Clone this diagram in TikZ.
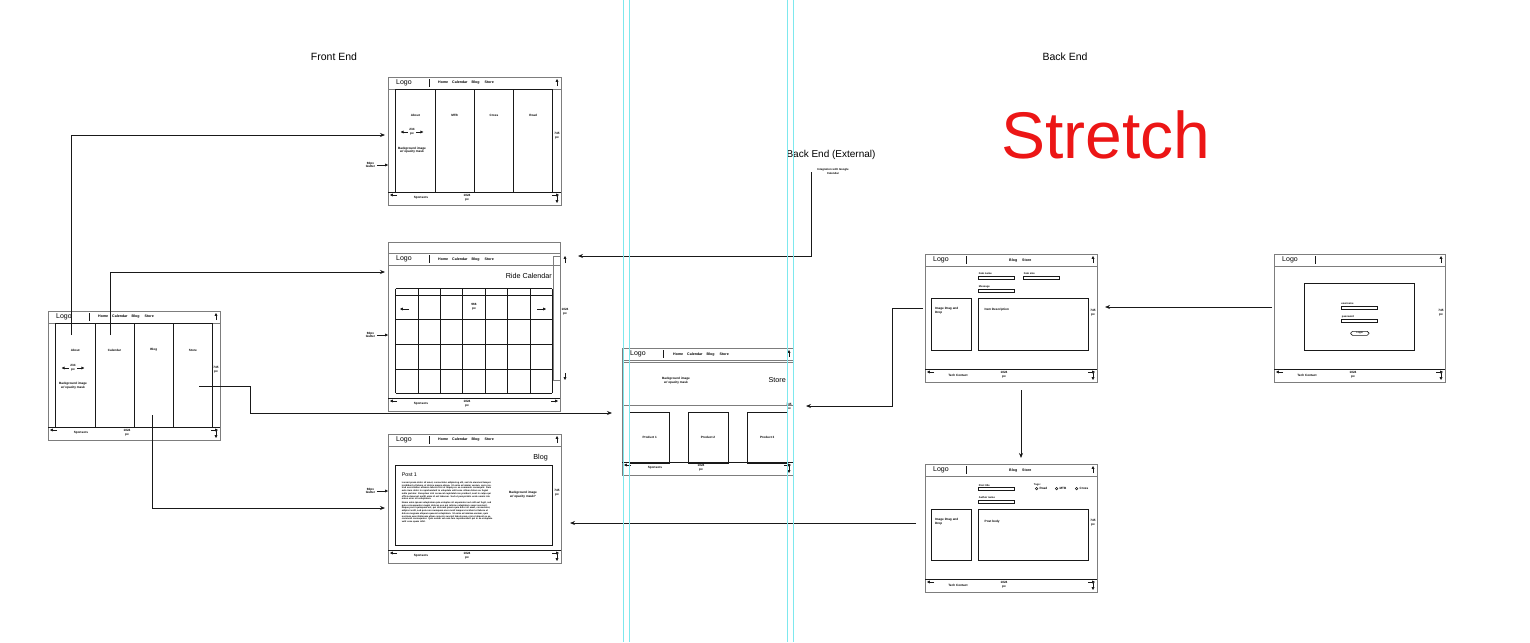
\documentclass[tikz,border=0pt]{standalone}
\usepackage{fontspec}
\setmainfont{Liberation Sans}
\usepackage{tikz}
\usetikzlibrary{arrows.meta, positioning, calc}
\definecolor{mydark}{RGB}{25,25,25}
\definecolor{framegray}{RGB}{125,125,125}
\definecolor{guidecyan}{RGB}{125,232,238}
\definecolor{inkred}{RGB}{236,22,22}
\tikzset{
  pageframe/.style={rectangle, draw=framegray, line width=1pt,
    inner sep=0pt, outer sep=0pt},
  colbox/.style={rectangle, draw=mydark, line width=0.8pt, minimum width=39.2pt,
    anchor=north west, inner sep=0pt, outer sep=0pt},
  panel/.style={rectangle, draw=mydark, line width=0.8pt, anchor=north west,
    inner sep=0pt, outer sep=0pt},
  fieldbox/.style={rectangle, draw=mydark, line width=0.6pt, minimum width=35.6pt,
    minimum height=3.3pt, anchor=north west, inner sep=0pt, outer sep=0pt},
  grayline/.style={draw=framegray, line width=0.8pt},
  darkline/.style={draw=mydark, line width=0.8pt},
  arrow/.style={-{Stealth[length=5pt,width=4pt]}, line width=0.8pt, color=mydark},
  tinyarrow/.style={-{Triangle[length=2.8pt,width=2.8pt]}, line width=0.6pt, color=mydark},
  guide/.style={draw=guidecyan, line width=0.9pt},
  title/.style={font=\fontsize{10.5}{12}\selectfont, inner sep=0pt},
  logo/.style={font=\fontsize{7}{8}\selectfont, inner sep=0pt, anchor=west},
  heading/.style={font=\fontsize{7.2}{8}\selectfont, inner sep=0pt, anchor=east},
  nav/.style={font=\bfseries\fontsize{3.6}{4}\selectfont, inner sep=0pt, anchor=west},
  tiny/.style={font=\bfseries\fontsize{3.1}{3.6}\selectfont, inner sep=0pt, align=center},
  tinyleft/.style={tiny, align=left},
  fieldlabel/.style={font=\bfseries\fontsize{2.6}{3}\selectfont, inner sep=0pt, anchor=south west},
  stretchtext/.style={font=\fontsize{66}{70}\selectfont, text=inkred, anchor=base, inner sep=0pt}
}

% one wireframe page: name, left, top, width, height, footer text
\newcommand{\wireframe}[6]{%
  \node[pageframe, minimum width=#4pt, minimum height=#5pt, anchor=north west] (#1) at (#2,#3) {};
  \draw[grayline] ([yshift=-12pt]#1.north west) -- ([yshift=-12pt]#1.north east);
  \node[logo] (#1-logo) at ([xshift=8pt,yshift=-6pt]#1.north west) {Logo};
  \draw[darkline] ([xshift=41pt,yshift=-2pt]#1.north west) -- ([xshift=41pt,yshift=-10pt]#1.north west);
  \draw[darkline] ([yshift=13pt]#1.south west) -- ([yshift=13pt]#1.south east);
  \node[tiny] (#1-foot) at ([xshift=33pt,yshift=7pt]#1.south west) {#6};
  \node[tiny] (#1-width) at ([xshift=79pt,yshift=7.5pt]#1.south west) {1024\\px};
  \draw[tinyarrow] ([xshift=9pt,yshift=10pt]#1.south west) -- ([xshift=2pt,yshift=10pt]#1.south west);
  \draw[tinyarrow] ([xshift=-9pt,yshift=10pt]#1.south east) -- ([xshift=-2pt,yshift=10pt]#1.south east);
}
% up/down marks and height on the right side
\newcommand{\sidemarks}[1]{%
  \draw[tinyarrow] ([xshift=-4pt,yshift=-9pt]#1.north east) -- ([xshift=-4pt,yshift=-2pt]#1.north east);
  \draw[tinyarrow] ([xshift=-4pt,yshift=9pt]#1.south east) -- ([xshift=-4pt,yshift=2pt]#1.south east);
  \node[tiny] (#1-height) at ([xshift=-4pt,yshift=-59pt]#1.north east) {745\\px};
}
% gutter note left of a page
\newcommand{\gutternote}[2]{%
  \node[tiny] (#1-gutter) at (370.5,#2) {60px\\Gutter};
  \draw[tinyarrow] ([xshift=1.5pt]#1-gutter.east) -- (#1.west |- #1-gutter.east);
}

\begin{document}
\begin{tikzpicture}[x=1pt, y=-1pt]
  \useasboundingbox (0,0) rectangle (1530,642);

  % Titles
  \node[title] (frontend) at (334,57) {Front End};
  \node[title] (backend) at (1065,57) {Back End};
  \node[title, font=\fontsize{10}{12}\selectfont] (external) at (831,155) {Back End (External)};
  \node[tiny, font=\bfseries\fontsize{2.8}{3.3}\selectfont] (google) at (833,171.5) {Integration with Google\\Calendar};
  \node[stretchtext] (stretch) at (1106,158) {Stretch};

  % Home page
  \wireframe{home}{48}{311}{172}{129}{Sponsors}
  \sidemarks{home}
  \node[nav] (home-nav) at ([xshift=50pt,yshift=-6pt]home.north west) {Home\hspace{4pt}Calendar\hspace{4pt}Blog\hspace{5pt}Store};
  \foreach \lab [count=\i] in {About,Calendar,Blog,Store} {
    \node[colbox, minimum height=104pt] (home-c\i) at ($(home.north west)+(7.7+39.2*\i-39.2,12)$) {};
    \node[tiny] (home-l\i) at ([yshift=-27pt]home-c\i.north) {\lab};
  }
  \node[tiny] (home-span) at (73,368) {234\\px};
  \draw[tinyarrow] ([xshift=-1.5pt]home-span.west) -- ++(-7pt,0);
  \draw[tinyarrow] ([xshift=1.5pt]home-span.east) -- ++(7pt,0);
  \node[tiny] (home-bg) at (73,385.5) {Background image\\w/ opacity mask};

  % About page (ride types)
  \wireframe{routes}{388}{77}{173}{128}{Sponsors}
  \sidemarks{routes}
  \gutternote{routes}{165}
  \node[nav] (routes-nav) at ([xshift=50pt,yshift=-6pt]routes.north west) {Home\hspace{4pt}Calendar\hspace{4pt}Blog\hspace{5pt}Store};
  \foreach \lab [count=\i] in {About,MTB,Cross,Road} {
    \node[colbox, minimum height=103pt] (routes-c\i) at ($(routes.north west)+(7.7+39.3*\i-39.3,12)$) {};
    \node[tiny] (routes-l\i) at ([yshift=-26pt]routes-c\i.north) {\lab};
  }
  \node[tiny] (routes-span) at (412,132) {234\\px};
  \draw[tinyarrow] ([xshift=-1.5pt]routes-span.west) -- ++(-7pt,0);
  \draw[tinyarrow] ([xshift=1.5pt]routes-span.east) -- ++(7pt,0);
  \node[tiny] (routes-bg) at (412,150) {Background image\\w/ opacity mask};

  % Calendar page
  \wireframe{calendar}{388}{253}{172}{158}{Sponsors}
  \gutternote{calendar}{335}
  \node[pageframe, minimum width=172pt, minimum height=11pt, anchor=south west] (calendar-top) at (calendar.north west) {};
  \node[nav] (calendar-nav) at ([xshift=50pt,yshift=-7pt]calendar.north west) {Home\hspace{4pt}Calendar\hspace{4pt}Blog\hspace{5pt}Store};
  \node[rectangle, draw=framegray, line width=0.8pt, minimum width=7pt, minimum height=124pt,
    anchor=north east, inner sep=0pt, outer sep=0pt] (calendar-scroll) at ([yshift=-3pt]calendar.north east) {};
  \draw[tinyarrow] ([xshift=5pt,yshift=-7pt]calendar-scroll.north east) -- ([xshift=5pt]calendar-scroll.north east);
  \draw[tinyarrow] ([xshift=5pt,yshift=7pt]calendar-scroll.south east) -- ([xshift=5pt]calendar-scroll.south east);
  \node[tiny] (calendar-height) at ([xshift=5pt,yshift=6pt]calendar-scroll.east) {1024\\px};
  \node[heading] (calendar-title) at (552,276) {Ride Calendar};
  \foreach \y in {288.7,295.3,319.7,344.7,369.7,393}
    \draw[darkline] (395.7,\y) -- (552.3,\y);
  \foreach \i in {0,...,7}
    \draw[darkline] ({395.7+22.37*\i},288.7) -- ({395.7+22.37*\i},393);
  \node[tiny] (calendar-span) at (474,306.5) {966\\px};
  \draw[tinyarrow] (409,309) -- (400,309);
  \draw[tinyarrow] (537,309) -- (546,309);

  % Blog page
  \wireframe{blog}{388}{434}{173}{129}{Sponsors}
  \sidemarks{blog}
  \gutternote{blog}{491}
  \node[nav] (blog-nav) at ([xshift=50pt,yshift=-6pt]blog.north west) {Home\hspace{4pt}Calendar\hspace{4pt}Blog\hspace{5pt}Store};
  \node[heading] (blog-title) at (548,458) {Blog};
  \node[panel, minimum width=156.6pt, minimum height=80pt] (blog-post) at (395.7,465) {};
  \node[inner sep=0pt, anchor=west, font=\fontsize{5.3}{6}\selectfont] (blog-posttitle) at (401.7,475) {Post 1};
  \node[inner sep=0pt, anchor=north west, text width=91pt, align=left,
    font=\bfseries\fontsize{2.3}{2.75}\selectfont] (blog-text) at (401.7,481.5)
    {Lorem ipsum dolor sit amet, consectetur adipiscing elit, sed do eiusmod tempor incididunt ut labore et dolore magna aliqua. Ut enim ad minim veniam, quis nostrud exercitation ullamco laboris nisi ut aliquip ex ea commodo consequat. Duis aute irure dolor in reprehenderit in voluptate velit esse cillum dolore eu fugiat nulla pariatur. Excepteur sint occaecat cupidatat non proident, sunt in culpa qui officia deserunt mollit anim id est laborum. Sed ut perspiciatis unde omnis iste natus error sit voluptatem.\par\vspace{0.8pt}
    Nemo enim ipsam voluptatem quia voluptas sit aspernatur aut odit aut fugit, sed quia consequuntur magni dolores eos qui ratione voluptatem sequi nesciunt. Neque porro quisquam est, qui dolorem ipsum quia dolor sit amet, consectetur, adipisci velit, sed quia non numquam eius modi tempora incidunt ut labore et dolore magnam aliquam quaerat voluptatem. Ut enim ad minima veniam, quis nostrum exercitationem ullam corporis suscipit laboriosam, nisi ut aliquid ex ea commodi consequatur. Quis autem vel eum iure reprehenderit qui in ea voluptate velit esse quam nihil.};
  \node[tiny] (blog-bg) at (523,494.5) {Background image\\w/ opacity mask?};

  % Store page
  \wireframe{store}{622}{348}{171}{127}{Sponsors}
  \sidemarks{store}
  \node[nav] (store-nav) at ([xshift=51pt,yshift=-7pt]store.north west) {Home\hspace{4pt}Calendar\hspace{4pt}Blog\hspace{5pt}Store};
  \node[rectangle, draw=framegray, line width=0.8pt, minimum width=171pt, minimum height=43pt,
    anchor=north west, inner sep=0pt, outer sep=0pt] (store-banner) at ([yshift=-14pt]store.north west) {};
  \node[tiny] (store-bg) at (676,380.5) {Background image\\w/ opacity mask};
  \node[heading] (store-title) at (786,380) {Store};
  \foreach \x [count=\i] in {629.7,688,747.3} {
    \node[panel, minimum width=40pt, minimum height=51pt] (store-p\i) at (\x,412) {};
    \node[tiny] (store-l\i) at (store-p\i.center) {Product \i};
  }

  % Item upload (back end)
  \wireframe{itemupload}{925}{254}{172}{128}{Tech Contact}
  \sidemarks{itemupload}
  \node[nav] (itemupload-nav) at ([xshift=84pt,yshift=-7pt]itemupload.north west) {Blog\hspace{5pt}Store};
  \node[fieldbox] (itemupload-f1) at (978.7,276) {};
  \node[fieldlabel] (itemupload-t1) at ([yshift=1pt]itemupload-f1.north west) {Item name};
  \node[fieldbox] (itemupload-f2) at (1023.7,276) {};
  \node[fieldlabel] (itemupload-t2) at ([yshift=1pt]itemupload-f2.north west) {Item size};
  \node[fieldbox] (itemupload-f3) at (978.7,289) {};
  \node[fieldlabel] (itemupload-t3) at ([yshift=1pt]itemupload-f3.north west) {Message};
  \node[panel, minimum width=40pt, minimum height=51.7pt] (itemupload-img) at (931.3,298.3) {};
  \node[tinyleft, anchor=north west] (itemupload-imgtext) at ([xshift=3.5pt,yshift=-9pt]itemupload-img.north west) {Image Drag and\\Drop};
  \node[panel, minimum width=110pt, minimum height=51.7pt] (itemupload-desc) at (978,298.3) {};
  \node[tiny, anchor=west] (itemupload-desctext) at ([xshift=6.5pt,yshift=-11.5pt]itemupload-desc.north west) {Item Description};

  % Login page
  \wireframe{login}{1274}{254}{171}{128}{Tech Contact}
  \sidemarks{login}
  \node[panel, minimum width=110pt, minimum height=66.7pt] (login-box) at (1304.3,283.3) {};
  \node[fieldbox, minimum width=36.3pt] (login-f1) at (1341,306) {};
  \node[fieldlabel] (login-t1) at ([yshift=1pt]login-f1.north west) {username};
  \node[fieldbox, minimum width=35.6pt] (login-f2) at (1341.7,319) {};
  \node[fieldlabel] (login-t2) at ([yshift=1pt]login-f2.north west) {password};
  \node[rectangle, draw=mydark, line width=0.6pt, rounded corners=1.8pt, minimum width=18.3pt,
    minimum height=4pt, inner sep=0pt, font=\bfseries\fontsize{2.4}{3}\selectfont] (login-button) at (1359.8,333.3) {Login};

  % Post upload (back end)
  \wireframe{postupload}{925}{464}{172}{128}{Tech Contact}
  \sidemarks{postupload}
  \node[nav] (postupload-nav) at ([xshift=84pt,yshift=-7pt]postupload.north west) {Blog\hspace{5pt}Store};
  \node[fieldbox] (postupload-f1) at (978.7,487.3) {};
  \node[fieldlabel] (postupload-t1) at ([yshift=1pt]postupload-f1.north west) {Post title};
  \node[fieldbox] (postupload-f2) at (978.7,500) {};
  \node[fieldlabel] (postupload-t2) at ([yshift=1pt]postupload-f2.north west) {Author name};
  \node[fieldlabel] (postupload-tags) at (1033.7,486) {Tags:};
  \foreach \x/\tag [count=\i] in {1035.3/Road,1055.3/MTB,1075.3/Cross} {
    \node[circle, draw=mydark, line width=0.5pt, minimum size=2.6pt, inner sep=0pt] (postupload-r\i) at ({\x+1.3},488.6) {};
    \node[tiny, anchor=west] (postupload-o\i) at ([xshift=1.2pt]postupload-r\i.east) {\tag};
  }
  \node[panel, minimum width=40pt, minimum height=51.4pt] (postupload-img) at (931.3,509.3) {};
  \node[tinyleft, anchor=north west] (postupload-imgtext) at ([xshift=3.5pt,yshift=-9pt]postupload-img.north west) {Image Drag and\\Drop};
  \node[panel, minimum width=110pt, minimum height=51.4pt] (postupload-body) at (978,509.3) {};
  \node[tiny, anchor=west] (postupload-bodytext) at ([xshift=6.5pt,yshift=-12.4pt]postupload-body.north west) {Post body};

  % Connector ends
  \coordinate (aboutpin) at (71,335);
  \coordinate (calpin) at (110,335);
  \coordinate (blogpin) at (152,415);
  \coordinate (storepin) at (199,386);
  \coordinate (storebend) at (250,413);
  \coordinate (routes-in) at (385,135);
  \coordinate (calendar-in) at (385,272);
  \coordinate (blog-in) at (385,508);
  \coordinate (store-in) at (612,413);
  \coordinate (google-out) at (811,172);
  \coordinate (calendar-in2) at (578,256);
  \coordinate (itemupload-out) at (923,308);
  \coordinate (itembend) at (892,308);
  \coordinate (store-in2) at (806,406);
  \coordinate (login-out) at (1272,307);
  \coordinate (itemupload-in) at (1105,307);
  \coordinate (itemupload-down) at (1021,390);
  \coordinate (postupload-in) at (1021,458);
  \coordinate (postupload-out) at (916,523);
  \coordinate (blog-in2) at (570,523);

  % Connectors
  \draw[arrow] (aboutpin) |- (routes-in);
  \draw[arrow] (calpin) |- (calendar-in);
  \draw[arrow] (blogpin) |- (blog-in);
  \draw[arrow] (storepin) -| (storebend) -- (store-in);
  \draw[arrow] (google-out) |- (calendar-in2);
  \draw[arrow] (itemupload-out) -- (itembend) |- (store-in2);
  \draw[arrow] (login-out) -- (itemupload-in);
  \draw[arrow] (itemupload-down) -- (postupload-in);
  \draw[arrow] (postupload-out) -- (blog-in2);

  % Guides
  \foreach \x in {623,629,787,793}
    \draw[guide] (\x,0) -- (\x,642);
\end{tikzpicture}
\end{document}
